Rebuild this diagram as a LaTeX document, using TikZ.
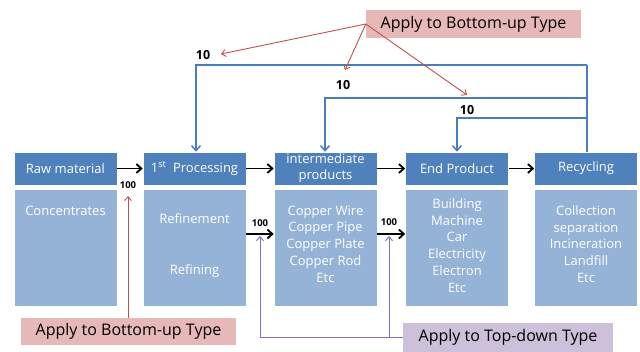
\documentclass[tikz,border=0pt]{standalone}
\usepackage{fontspec}
\setmainfont{Open Sans}
\usetikzlibrary{arrows.meta}
\definecolor{hdrblue}{HTML}{4F81BD}
\definecolor{bodyblue}{HTML}{95B3D7}
\definecolor{fbblue}{HTML}{4A7EBB}
\definecolor{redl}{HTML}{C0504D}
\definecolor{pinkbox}{HTML}{E6B9B8}
\definecolor{purl}{HTML}{8E6BB8}
\definecolor{purbox}{HTML}{CCC0DA}
\tikzset{
  hdr/.style={fill=hdrblue, draw=white, line width=0.6pt, minimum width=103pt, minimum height=33pt, text=white, font=\fontsize{13}{16}\selectfont, align=center, inner sep=0pt},
  bodybox/.style={fill=bodyblue, draw=white, line width=0.6pt, minimum width=103pt, minimum height=117pt, inner sep=0pt},
  btxt/.style={text=white, font=\fontsize{13}{16.7}\selectfont, align=center, anchor=north, inner sep=0pt},
  blk/.style={black, line width=1.8pt, -{Straight Barb[length=5pt,width=9pt]}},
  fb/.style={fbblue, line width=1.5pt},
  fbarrow/.style={fbblue, line width=1.5pt, -{Straight Barb[length=5pt,width=9pt]}},
  redarr/.style={redl, line width=0.9pt, -{Straight Barb[length=4pt,width=7pt]}},
  purarr/.style={purl, line width=1pt, -{Straight Barb[length=4pt,width=7pt]}},
  bignote/.style={font=\fontsize{16}{18}\selectfont, inner sep=0pt, text=black},
  ten/.style={font=\bfseries\fontsize{12.5}{13}\selectfont, inner sep=0pt},
  hund/.style={font=\bfseries\fontsize{9.5}{10}\selectfont, inner sep=0pt},
}
\begin{document}
\begin{tikzpicture}[x=1pt,y=-1pt]
\useasboundingbox (0,0) rectangle (640,351);
% headers
\node[hdr] (raw) at (65.5,168.5) {Raw material};
\node[hdr] (p1) at (194.5,168.5) {1\textsuperscript{st}\ \ Processing};
\node[hdr] (im) at (325.5,168.5) {intermediate\\products};
\node[hdr] (ep) at (457,168.5) {End Product};
\node[hdr] (rc) at (586,168.5) {Recycling};
% bodies
\node[bodybox] (rawb) at (65.5,247.5) {};
\node[bodybox] (p1b) at (194.5,247.5) {};
\node[bodybox] (imb) at (325.5,247.5) {};
\node[bodybox] (epb) at (457,247.5) {};
\node[bodybox] (rcb) at (586,247.5) {};
% body texts
\node[btxt] (t1) at (65.5,205.5) {Concentrates};
\node[btxt] (t2) at (194.5,213.5) {Refinement};
\node[btxt] (t3) at (194.5,264.5) {Refining};
\node[btxt] (t4) at (325.5,205.5) {Copper Wire\\Copper Pipe\\Copper Plate\\Copper Rod\\Etc};
\node[btxt] (t5) at (457,198.5) {Building\\Machine\\Car\\Electricity\\Electron\\Etc};
\node[btxt] (t6) at (586,205.5) {Collection\\separation\\Incineration\\Landfill\\Etc};
% black flow arrows
\draw[blk] (raw.east) -- (p1.west);
\draw[blk] (p1.east) -- (im.west);
\draw[blk] (im.east) -- (ep.west);
\draw[blk] (ep.east) -- (rc.west);
\draw[blk] (p1b.east |- 0,234) -- (imb.west |- 0,234);
\draw[blk] (imb.east |- 0,234) -- (epb.west |- 0,234);
\node[hund] (h1) at (128,185) {100};
\node[hund] (h2) at (260,223) {100};
\node[hund] (h3) at (389,222) {100};
% feedback lines
\coordinate (c1) at (587,65);
\coordinate (c2) at (587,98);
\coordinate (c3) at (587,118);
\draw[fb] (rc.north -| c1) -- (c1);
\draw[fbarrow] (c1) -- (196,65) -- (p1.north -| 196,0);
\draw[fbarrow] (c2) -- (325,98) -- (im.north -| 325,0);
\draw[fbarrow] (c3) -- (457,118) -- (ep.north);
\node[ten] (n1) at (203,55) {10};
\node[ten] (n2) at (343,85) {10};
\node[ten] (n3) at (467,110) {10};
% top note
\node[bignote, fill=pinkbox, minimum width=215pt, minimum height=28pt] (bt) at (473.5,24) {Apply to Bottom-up Type};
\coordinate (a1) at (221,54);
\coordinate (a2) at (345,70);
\coordinate (a3) at (467,95);
\draw[redarr] (bt.west) -- (a1);
\draw[redarr] (bt.west) -- (a2);
\draw[redarr] (bt.west) -- (a3);
% bottom-left note
\node[bignote, fill=pinkbox, minimum width=215pt, minimum height=27pt] (bb) at (128.5,331.5) {Apply to Bottom-up Type};
\coordinate (a4) at (128,196);
\draw[redarr] (bb.north -| a4) -- (a4);
% bottom-right note
\node[bignote, fill=purbox, minimum width=210pt, minimum height=29pt] (td) at (508,337.5) {Apply to Top-down Type};
\coordinate (pj) at (389,337);
\coordinate (pk) at (260,337);
\draw[purl, line width=1pt] (td.west |- pj) -- (pk);
\draw[purarr] (pk) -- (260,236);
\draw[purarr] (pj) -- (389,236);
\end{tikzpicture}
\end{document}
